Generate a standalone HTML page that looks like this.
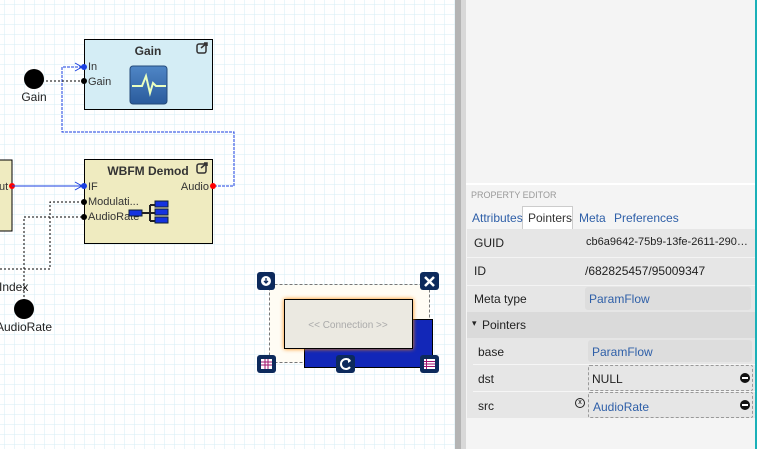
<!DOCTYPE html>
<html><head><style>
body{margin:0;width:757px;height:449px;overflow:hidden;position:relative;font-family:"Liberation Sans",sans-serif;background:#fff}
.a{position:absolute}
.p{font-size:12px;color:#333}
.row{position:absolute;left:467px;width:288px;font-size:12px;color:#222}
</style></head><body>
<svg class="a" style="left:0;top:0" width="455" height="449">
<defs><pattern id="g" width="10" height="10" patternUnits="userSpaceOnUse" x="4" y="4"><path d="M10 0H0V10" fill="none" stroke="#d6eef4" stroke-width="1"/></pattern>
<linearGradient id="ig" x1="0" y1="0" x2="0" y2="1"><stop offset="0" stop-color="#4f86c6"/><stop offset="1" stop-color="#2a5b9c"/></linearGradient></defs>
<rect width="455" height="449" fill="url(#g)"/>
<rect x="-2" y="160" width="14" height="71" fill="#efebc0" stroke="#000"/>
<text x="-1" y="190" font-size="11" fill="#333">ut</text>
<circle cx="12" cy="186" r="3" fill="red"/>
<path d="M12 186H82" stroke="#1a3fe0" fill="none"/>
<path d="M75 182l7 4-7 4" stroke="#1a3fe0" fill="none"/>
<path d="M214 186H234V132H62V67H82" stroke="#1a3fe0" fill="none" stroke-dasharray="3,1"/>
<path d="M75 63l7 4-7 4" stroke="#1a3fe0" fill="none"/>
<path d="M34 81H82" stroke="#000" stroke-dasharray="2,2"/>
<path d="M0 269H50V202H82" stroke="#000" fill="none" stroke-dasharray="2,2"/>
<path d="M24 309V217H82" stroke="#000" fill="none" stroke-dasharray="2,2"/>
<circle cx="34" cy="79" r="10" fill="#000"/>
<text x="34" y="101" font-size="12" text-anchor="middle" fill="#222">Gain</text>
<circle cx="24" cy="309" r="10" fill="#000"/>
<text x="24" y="331" font-size="12" text-anchor="middle" fill="#222">AudioRate</text>
<text x="-1" y="291" font-size="12" fill="#222">Index</text>
<rect x="84.5" y="39.5" width="128" height="70" fill="#d4edf5" stroke="#000"/>
<text x="148" y="55" font-size="12" font-weight="bold" text-anchor="middle" fill="#333">Gain</text>
<rect x="130" y="66" width="37" height="38" rx="3" fill="url(#ig)" stroke="#244a7a"/>
<path d="M132 86h10l4-10 4 17 3-10 3 3h10" stroke="#eaffc0" stroke-width="2" fill="none"/>
<text x="88" y="70" font-size="11" fill="#333">In</text>
<text x="88" y="85" font-size="11" fill="#333">Gain</text>
<circle cx="84" cy="67" r="3" fill="#1a3fe0"/><circle cx="84" cy="81" r="3" fill="#000"/>
<rect x="84.5" y="159.5" width="128" height="84" fill="#efebc0" stroke="#000"/>
<text x="148" y="175" font-size="12" font-weight="bold" text-anchor="middle" fill="#333">WBFM Demod</text>
<text x="88" y="190" font-size="11" fill="#333">IF</text>
<text x="88" y="205" font-size="11" fill="#333">Modulati...</text>
<text x="88" y="220" font-size="11" fill="#333">AudioRate</text>
<text x="209" y="190" font-size="11" fill="#333" text-anchor="end">Audio</text>
<circle cx="84" cy="186" r="3" fill="#1a3fe0"/><circle cx="84" cy="202" r="3" fill="#000"/><circle cx="84" cy="217" r="3" fill="#000"/>
<circle cx="213" cy="186" r="3" fill="red"/>
<rect x="129" y="210" width="13" height="6" fill="#1533e0" stroke="#123"/>
<path d="M142 213h8M150 205v16M150 205h5M150 213h5M150 221h5" stroke="#222" stroke-width="2" fill="none"/>
<rect x="155" y="201" width="13" height="6" fill="#1533e0" stroke="#123"/>
<rect x="155" y="209" width="13" height="6" fill="#1533e0" stroke="#123"/>
<rect x="155" y="217" width="13" height="6" fill="#1533e0" stroke="#123"/>
<g stroke="#333" stroke-width="1.5" fill="none"><rect x="197" y="44" width="9" height="9" rx="2"/><path d="M201 48l6-5M204 43h3v3"/>
<rect x="197" y="164" width="9" height="9" rx="2"/><path d="M201 168l6-5M204 163h3v3"/></g>
<rect x="269.5" y="284.5" width="160" height="78" fill="#fffcf4" stroke="#777" stroke-dasharray="3,2"/>
<rect x="304.5" y="319.5" width="128" height="48" fill="#1227b8" stroke="#000"/>
<rect x="284.5" y="299.5" width="128" height="49" fill="#ebe9e1" stroke="#000" style="filter:drop-shadow(0 0 2px #f80)"/>
<text x="348" y="328" font-size="10" fill="#aaa" text-anchor="middle">&lt;&lt; Connection &gt;&gt;</text>
<rect x="257" y="272" width="18" height="18" rx="3" fill="#0d2a5c"/><circle cx="266" cy="281" r="5" fill="#fff"/><path d="M266 278v5M264 281l2 2 2-2" stroke="#0d2a5c" stroke-width="1.3" fill="none"/>
<rect x="420" y="272" width="19" height="18" rx="3" fill="#0d2a5c"/><path d="M425 277l9 9M434 277l-9 9" stroke="#fff" stroke-width="2.5"/>
<rect x="257" y="355" width="19" height="18" rx="3" fill="#0d2a5c"/><rect x="261" y="359" width="11" height="10" fill="#fff"/><path d="M261 362h11M261 365h11M265 359v10M268 359v10" stroke="#a0146e"/>
<rect x="336" y="355" width="19" height="18" rx="3" fill="#0d2a5c"/><path d="M350 361a5 5 0 1 0 0 6" stroke="#fff" stroke-width="2" fill="none"/><path d="M348 358l3 3-3 2z" fill="#fff"/>
<rect x="420" y="355" width="19" height="18" rx="3" fill="#0d2a5c"/><rect x="424" y="359" width="11" height="10" fill="#fff"/><path d="M424 361.5h11M424 364h11M424 366.5h11M426.5 359v10" stroke="#a0146e"/>
</svg>
<div class="a" style="left:455px;top:0;width:6px;height:449px;background:#b4b4b4"></div>
<div class="a" style="left:461px;top:0;width:5px;height:449px;background:#d8d8d8"></div>
<div class="a" style="left:466px;top:0;width:291px;height:449px;background:#f4f4f4"></div>
<div class="a" style="left:466px;top:183px;width:289px;height:2px;background:#fff"></div>
<div class="a" style="left:755px;top:0;width:2px;height:449px;background:#1ab0b8"></div>
<div class="a" style="left:471px;top:190px;font-size:9px;color:#999">PROPERTY EDITOR</div>
<div class="a" style="left:522px;top:206px;width:49px;height:23px;background:#fff;border:1px solid #ccc;border-bottom:none"></div>
<div class="a p" style="left:472px;top:211px;color:#2e5fa8">Attributes</div>
<div class="a p" style="left:528px;top:211px;color:#333">Pointers</div>
<div class="a p" style="left:579px;top:211px;color:#2e5fa8">Meta</div>
<div class="a p" style="left:614px;top:211px;color:#2e5fa8">Preferences</div>
<div class="row" style="top:229px;height:28px;background:#e6e6e6"><span class="a" style="left:7px;top:7px">GUID</span><span class="a" style="left:119px;top:7px;font-size:11px">cb6a9642-75b9-13fe-2611-290…</span></div>
<div class="row" style="top:257px;height:27px;background:#e6e6e6;border-top:1px solid #f4f4f4"><span class="a" style="left:7px;top:6px">ID</span><span class="a" style="left:118px;top:6px">/682825457/95009347</span></div>
<div class="row" style="top:285px;height:26px;background:#e6e6e6;border-top:1px solid #f4f4f4"><div class="a" style="left:118px;top:1px;width:166px;height:23px;background:#ddd;border-radius:3px"></div><span class="a" style="left:7px;top:6px">Meta type</span><span class="a" style="left:122px;top:6px;color:#2e5fa8">ParamFlow</span></div>
<div class="row" style="top:312px;height:26px;background:#dadada"><span class="a" style="left:5px;top:6px;font-size:9px">▾</span><span class="a" style="left:15px;top:6px">Pointers</span></div>
<div class="row" style="top:338px;height:80px;background:#e6e6e6"></div>
<div class="a" style="left:473px;top:364px;width:282px;height:1px;background:#f6f6f6"></div>
<div class="a" style="left:473px;top:391px;width:282px;height:1px;background:#f6f6f6"></div>
<div class="a" style="left:588px;top:340px;width:164px;height:22px;background:#ddd;border-radius:3px"></div>
<div class="a" style="left:588px;top:365px;width:163px;height:24px;border:1px dashed #999;border-radius:2px"></div>
<div class="a" style="left:588px;top:392px;width:163px;height:24px;border:1px dashed #999;border-radius:2px"></div>
<div class="a p" style="left:478px;top:345px;color:#222">base</div><div class="a p" style="left:592px;top:345px;color:#2e5fa8">ParamFlow</div>
<div class="a p" style="left:478px;top:372px;color:#222">dst</div><div class="a p" style="left:592px;top:372px;color:#222">NULL</div>
<div class="a p" style="left:478px;top:399px;color:#222">src</div><div class="a p" style="left:593px;top:400px;color:#2e5fa8">AudioRate</div>
<div class="a" style="left:740px;top:373px;width:10px;height:10px;border-radius:50%;background:#111"><div class="a" style="left:2px;top:4px;width:6px;height:2px;background:#fff"></div></div>
<div class="a" style="left:740px;top:400px;width:10px;height:10px;border-radius:50%;background:#111"><div class="a" style="left:2px;top:4px;width:6px;height:2px;background:#fff"></div></div>
<div class="a" style="left:575px;top:398px;width:8px;height:8px;border-radius:50%;border:1.5px solid #222;font-size:7px;line-height:8px;text-align:center">x</div>
</body></html>
